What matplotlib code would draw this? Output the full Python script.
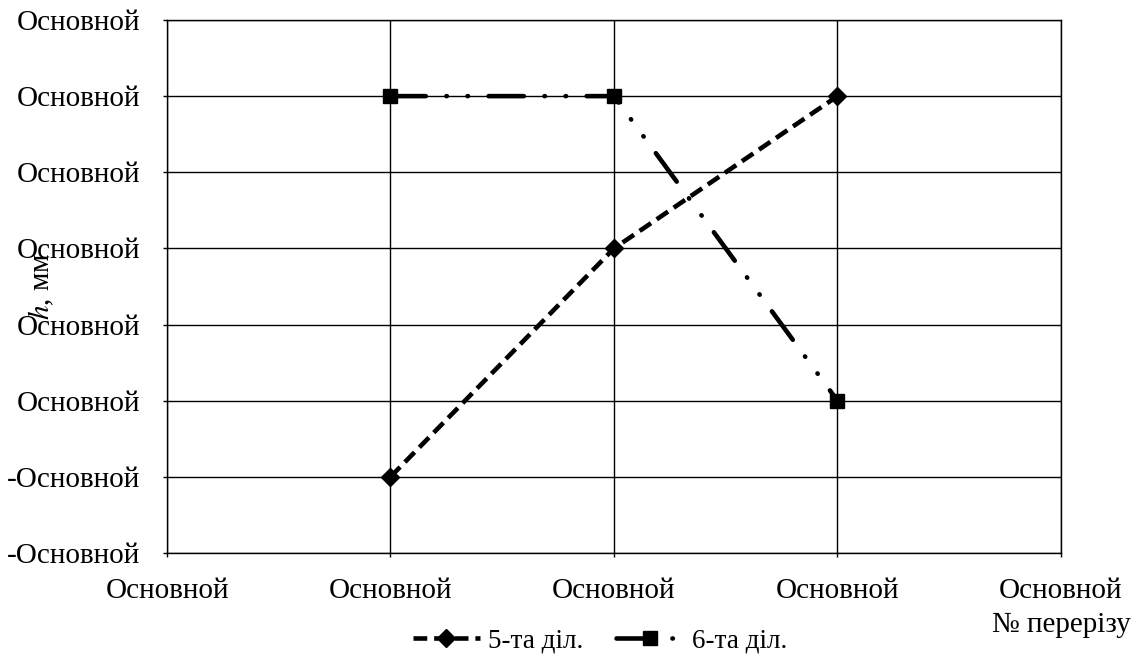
import matplotlib
matplotlib.use("Agg")
import matplotlib.pyplot as plt

plt.rcParams['font.family'] = ['Liberation Serif', 'DejaVu Serif']
plt.rcParams['mathtext.fontset'] = 'stix'

# data
x_ticks = [0, 1, 2, 3, 4]
y_ticks = [-2, -1, 0, 1, 2, 3, 4, 5]
x_tick_labels = ["Основной"] * 5
y_tick_labels = ["-Основной", "-Основной"] + ["Основной"] * 6

sec_x = [1, 2, 3]
s5 = [-1, 2, 4]
s6 = [4, 4, 0]

fig = plt.figure(figsize=(11.47, 6.64), dpi=100)
ax = fig.add_axes([0.1456, 0.1672, 0.7794, 0.8027])

ax.plot(sec_x, s5, color="black", lw=3.3, linestyle=(0, (3.0, 1.5)),
        dash_capstyle="butt", marker="D", markersize=9.5, label="5-та діл.")
ax.plot(sec_x, s6, color="black", lw=3.3, linestyle=(0, (7.7, 4.5, 0.1, 4.5, 0.1, 4.5)),
        dash_capstyle="round", marker="s", markersize=10.5, label="6-та діл.")

ax.set_xlim(0, 4)
ax.set_ylim(-2, 5)
ax.set_xticks(x_ticks)
ax.set_xticklabels(x_tick_labels)
ax.set_yticks(y_ticks)
ax.set_yticklabels(y_tick_labels)
ax.tick_params(axis="both", labelsize=21, direction="out", length=3, width=1, color="black")
ax.tick_params(axis="y", pad=16)
ax.tick_params(axis="x", pad=15)
ax.grid(True, color="black", lw=1)
for s in ax.spines.values():
    s.set_linewidth(1)

ax.set_ylabel("$h$, мм", fontsize=21, labelpad=0)
ax.yaxis.set_label_coords(-0.124, 0.5)
ax.set_xlabel("№ перерізу", fontsize=21)
ax.xaxis.set_label_coords(1.0, -0.11)

fig.legend(loc="center", ncol=2, frameon=False, fontsize=19.5,
           bbox_to_anchor=(0.523, 0.035), handlelength=2.5, columnspacing=1.2,
           handletextpad=0.3)

fig.savefig("out.png", dpi=100)
